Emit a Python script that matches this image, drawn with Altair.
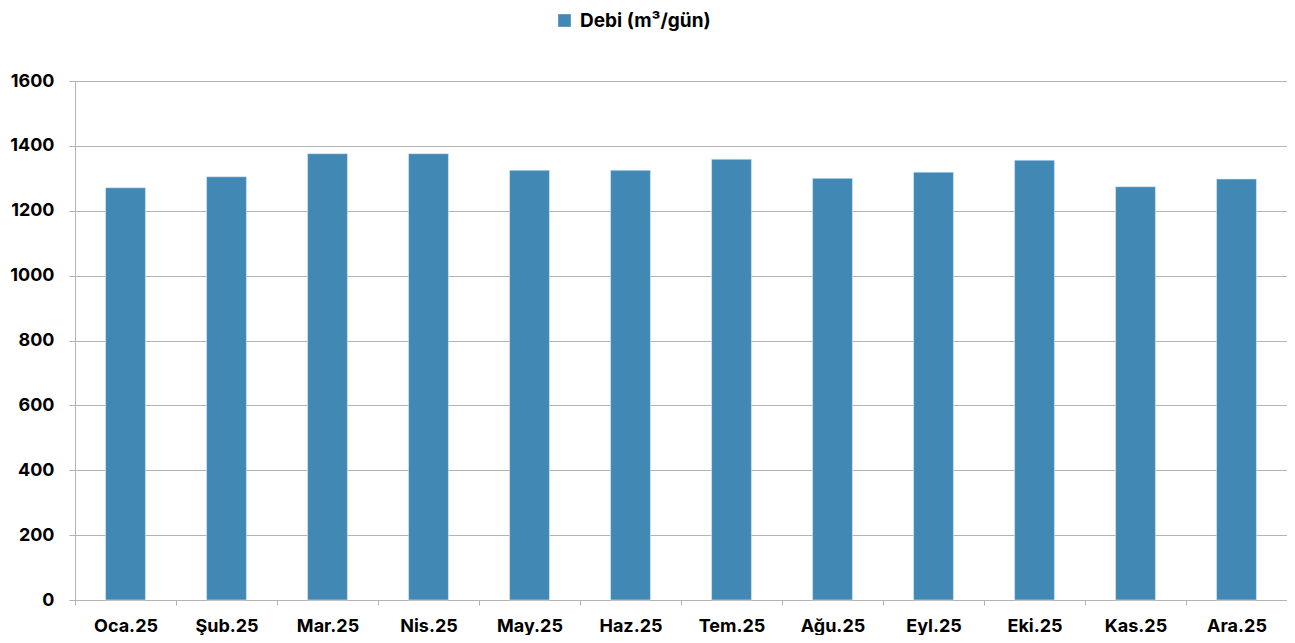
import altair as alt
import pandas as pd

months = ["Oca.25", "Şub.25", "Mar.25", "Nis.25", "May.25", "Haz.25",
          "Tem.25", "Ağu.25", "Eyl.25", "Eki.25", "Kas.25", "Ara.25"]
values = [1271, 1305, 1376, 1376, 1325, 1325, 1359, 1300, 1319, 1356, 1274, 1298]
series_name = "Debi (m³/gün)"

df = pd.DataFrame({"month": months, "value": values, "series": [series_name] * len(months)})

FONT = "Inter"
bar_color = "#4189B4"
grid_color = "#b3b3b3"

chart = alt.Chart(df).mark_bar(
    width=alt.RelativeBandSize(0.395), stroke="#dbe9f3", strokeWidth=0.6
).encode(
    x=alt.X("month:N", sort=months, title=None,
            scale=alt.Scale(paddingInner=0, paddingOuter=0),
            axis=alt.Axis(tickBand="extent", labelAngle=0, grid=False,
                          domainColor=grid_color, tickColor=grid_color,
                          tickSize=5, labelPadding=12, labelFontSize=18,
                          labelFont=FONT, labelFontWeight="bold", labelColor="#000000")),
    y=alt.Y("value:Q", title=None,
            scale=alt.Scale(domain=[0, 1600], nice=False),
            axis=alt.Axis(values=[0, 200, 400, 600, 800, 1000, 1200, 1400, 1600],
                          format="d",
                          grid=True, gridColor=grid_color, gridWidth=1,
                          domainColor=grid_color, tickColor=grid_color, tickSize=6,
                          labelPadding=15, labelFontSize=18, labelFont=FONT,
                          labelFontWeight="bold", labelColor="#000000")),
    color=alt.Color("series:N", scale=alt.Scale(range=[bar_color]),
                    legend=alt.Legend(title=None, orient="none", legendX=480, legendY=-70,
                                      symbolType="square", symbolSize=160,
                                      symbolStrokeWidth=0, labelOffset=6,
                                      labelFontSize=19, labelFont=FONT,
                                      labelFontWeight="bold", labelColor="#000000")),
).properties(
    width=1212, height=519,
    autosize=alt.AutoSizeParams(type="none"),
    padding={"left": 67, "top": 73, "right": 0, "bottom": 35},
).configure(background="white").configure_view(stroke=None)

chart.save("out.html", embed_options={"renderer": "svg", "actions": False})
